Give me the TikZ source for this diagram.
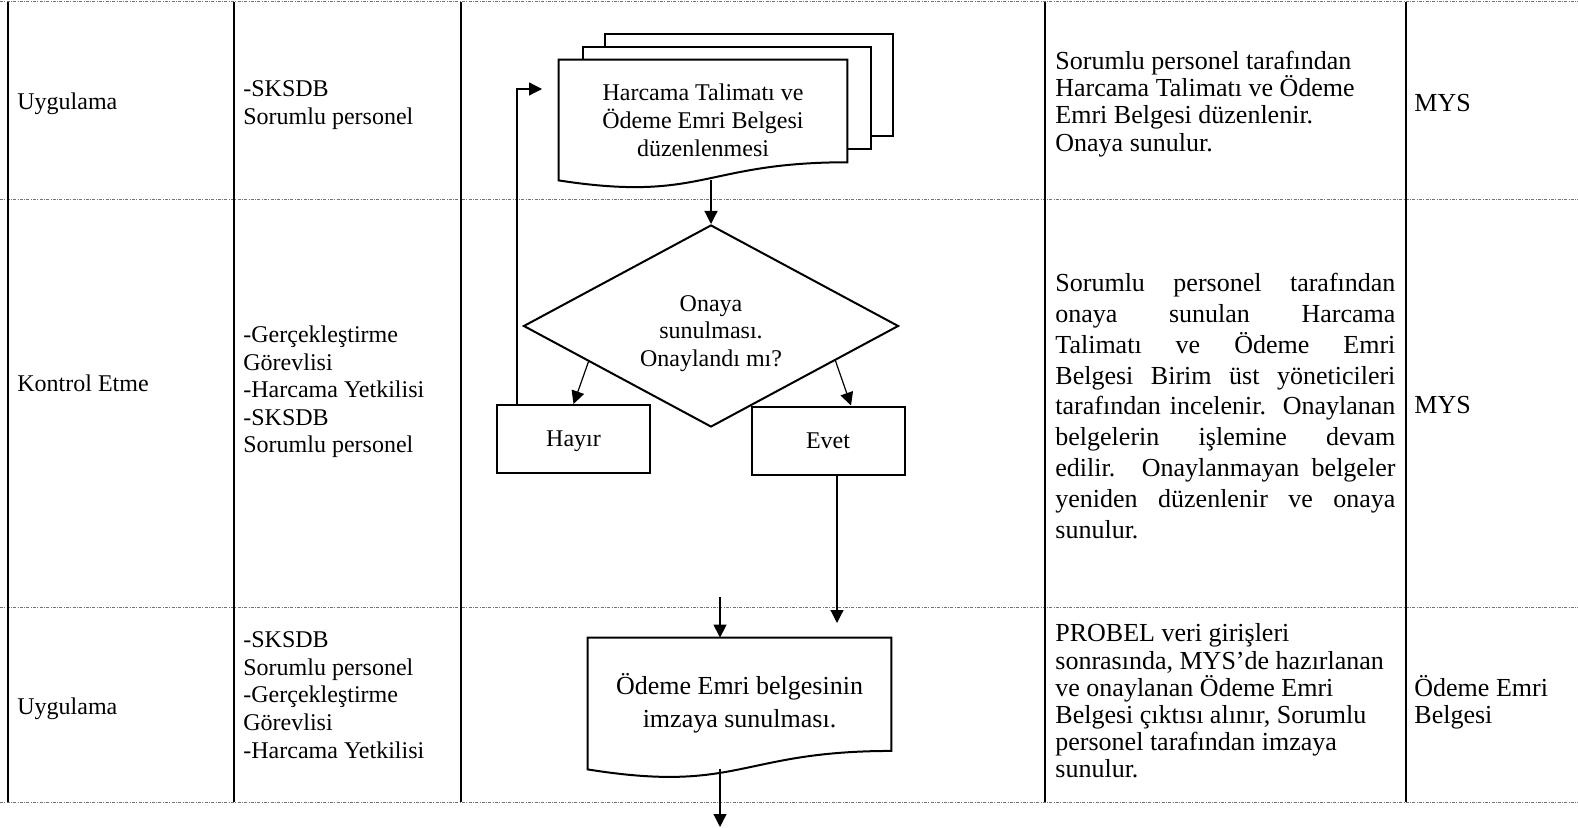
\documentclass[tikz,border=0pt]{standalone}
\usepackage{fontspec}
\setmainfont{Liberation Serif}
\usetikzlibrary{arrows.meta,shapes.geometric,calc,backgrounds}
\tikzset{
        cell/.style={anchor=west, align=left, inner sep=0pt, font=\fontsize{12}{13.8}\selectfont},
        desc/.style={anchor=west, align=left, inner sep=0pt, font=\fontsize{13}{13.6}\selectfont},
        descwide/.style={desc, font=\fontsize{13}{15.4}\selectfont},
        grid/.style={line width=1.2pt, draw=black},
        sep/.style={draw=black!55, line width=0.5pt, dash pattern=on 1.5pt off 0.7pt on 0.4pt off 0.7pt},
        docbox/.style={inner sep=0pt, align=center, font=\fontsize{12}{14}\selectfont},
        docline/.style={draw=black, line width=1pt, fill=white},
        decision/.style={diamond, draw=black, line width=1pt, aspect=1.86, minimum width=187.5pt,
          minimum height=101pt, inner sep=0pt, align=center, font=\fontsize{12}{13.8}\selectfont},
        answer/.style={rectangle, draw=black, line width=1pt, minimum width=76.5pt, minimum height=34pt,
          text depth=0pt, font=\fontsize{12}{14}\selectfont},
        arr/.style={-{Triangle[length=6.5pt,width=6.5pt]}, line width=0.6pt}
          }
\newcommand\jline[1]{\makebox[170pt][s]{#1}}

\begin{document}
\begin{tikzpicture}[x=0.5pt, y=-0.5pt]
        \useasboundingbox (0,0) rectangle (1578,828);

        % table
        \draw[sep] (0,2) -- (1578,2) (0,200) -- (1578,200) (0,607) -- (1578,607) (0,802) -- (1578,802);
        \draw[grid] (8,2) -- (8,802) (234,2) -- (234,802) (461,2) -- (461,802)
          (1045,2) -- (1045,802) (1406,2) -- (1406,802);

        \node[cell] (step1) at (17,104) {Uygulama};
        \node[cell] (step2) at (17,383) {Kontrol Etme};
        \node[cell] (step3) at (17,709) {Uygulama};

        \node[cell] (resp1) at (243,105) {-SKSDB\\Sorumlu personel};
        \node[cell] (resp2) at (243,392) {-Gerçekleştirme\\Görevlisi\\-Harcama Yetkilisi\\-SKSDB\\Sorumlu personel};
        \node[cell] (resp3) at (243,695) {-SKSDB\\Sorumlu personel\\-Gerçekleştirme\\Görevlisi\\-Harcama Yetkilisi};

        \node[desc] (desc1) at (1055,104) {Sorumlu personel tarafından\\Harcama Talimatı ve Ödeme\\Emri Belgesi düzenlenir.\\Onaya sunulur.};
        \node[descwide] (desc2) at (1055,406) {\jline{Sorumlu personel tarafından}\\\jline{onaya sunulan Harcama}\\
          \jline{Talimatı ve Ödeme Emri}\\\jline{Belgesi Birim üst yöneticileri}\\\jline{tarafından incelenir. Onaylanan}\\
          \jline{belgelerin işlemine devam}\\\jline{edilir. Onaylanmayan belgeler}\\\jline{yeniden düzenlenir ve onaya}\\sunulur.};
        \node[desc] (desc3) at (1055,701) {PROBEL veri girişleri\\sonrasında, MYS’de hazırlanan\\ve onaylanan Ödeme Emri\\Belgesi çıktısı alınır, Sorumlu\\personel tarafından imzaya\\sunulur.};

        \node[desc] (doc1) at (1414,103) {MYS};
        \node[desc] (doc2) at (1414,405) {MYS};
        \node[desc] (doc3) at (1414,702) {Ödeme Emri\\Belgesi};

        % flow
        \node[docbox, minimum width=144pt, minimum height=60pt] (hdoc) at (703,120)
          {Harcama Talimatı ve\\Ödeme Emri Belgesi\\düzenlenmesi};
        \node[decision] (dia) at (711,326) {\rule{0pt}{15.5pt}Onaya\\sunulması.\\Onaylandı mı?};
        \node[answer] (hayir) at (573.5,439) {Hayır};
        \node[answer] (evet) at (828,440.5) {Evet};
        \node[docbox, minimum width=151.5pt, minimum height=65.5pt, font=\fontsize{13}{16.5}\selectfont] (odoc)
          at (739.5,703.5) {Ödeme Emri belgesinin\\imzaya sunulması.};

        \coordinate (hdoc-r) at ($(hdoc.south east)!0.15!(hdoc.north east)$);
        \coordinate (odoc-r) at ($(odoc.south east)!0.14!(odoc.north east)$);
        \coordinate (loopin) at (542,89);
        \coordinate (evetin) at (837,623);
        \coordinate (odin) at (720,597);
        \coordinate (odout) at (720,827);

        \begin{scope}[on background layer]
          \draw[docline] ([shift={(46,-26)}]hdoc.north west) rectangle ([shift={(46,-26)}]hdoc-r);
          \draw[docline] ([shift={(24,-13)}]hdoc.north west) rectangle ([shift={(24,-13)}]hdoc-r);
          \draw[docline] (hdoc.north west) -- (hdoc.north east) -- (hdoc-r)
            .. controls ($(hdoc.south)!0.15!(hdoc.north)$) and ($(hdoc.south)!-0.185!(hdoc.north)$) .. (hdoc.south west) -- cycle;
          \draw[docline] (odoc.north west) -- (odoc.north east) -- (odoc-r)
            .. controls ($(odoc.south)!0.14!(odoc.north)$) and ($(odoc.south)!-0.185!(odoc.north)$) .. (odoc.south west) -- cycle;
        \end{scope}

        \draw[arr] (hdoc.south -| dia.north) -- (dia.north);
        \draw[arr] ($(dia.west)!0.35!(dia.south)$) -- (hayir.north);
        \draw[arr] ($(dia.east)!0.34!(dia.south)$) -- ([xshift=11.5pt]evet.north);
        \draw[arr] ([xshift=10.5pt]hayir.north west) |- (loopin);
        \draw[arr] (evet.south -| evetin) -- (evetin);
        \draw[arr] (odin) -- (odin |- odoc.north);
        \draw[arr] (odout |- odoc.south) -- (odout);
\end{tikzpicture}
\end{document}
